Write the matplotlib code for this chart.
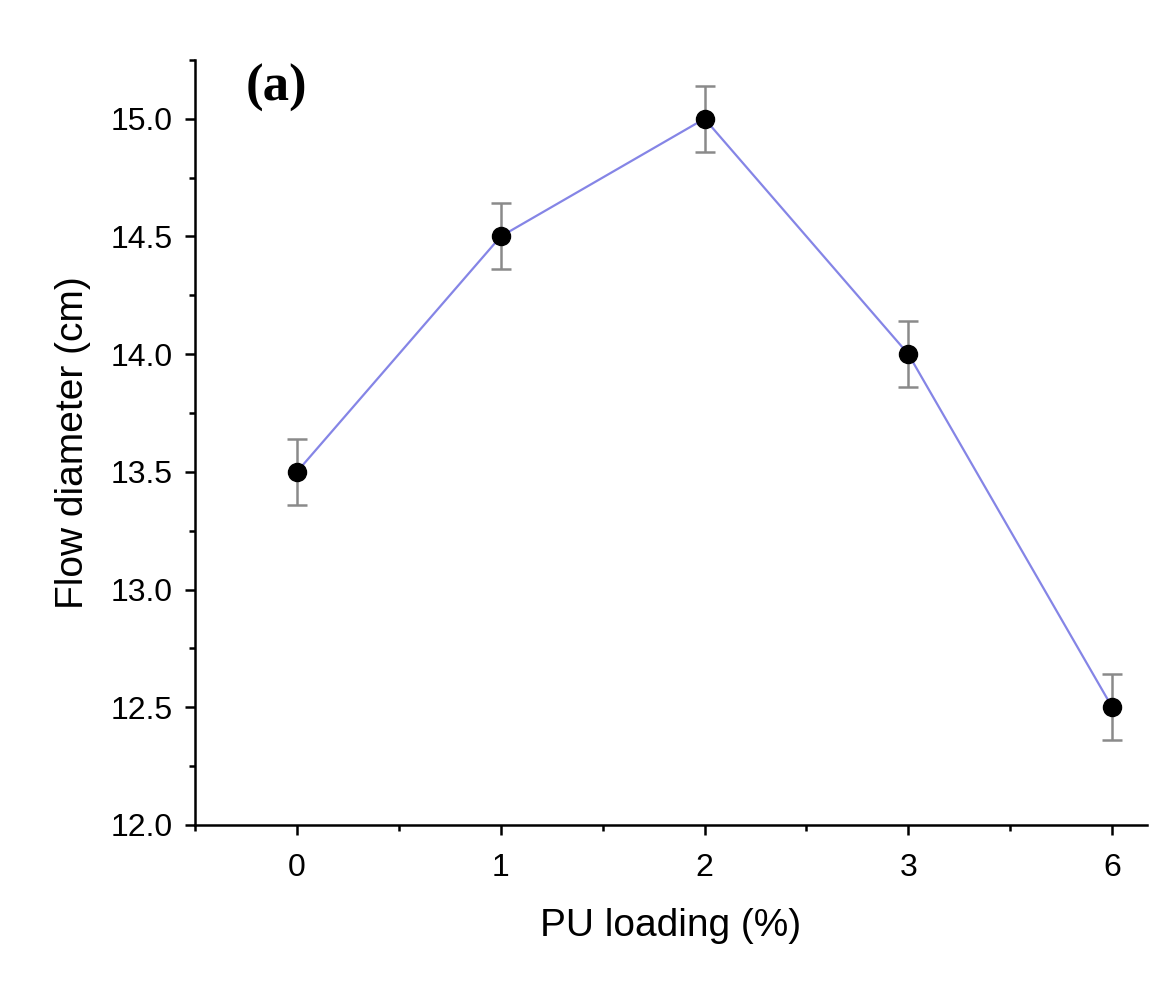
import matplotlib
matplotlib.use('Agg')
import matplotlib.pyplot as plt
from matplotlib.ticker import MultipleLocator

# PU loading categories and measured flow diameters
loading_labels = ['0', '1', '2', '3', '6']
flow_diameter = [13.5, 14.5, 15.0, 14.0, 12.5]
flow_error = [0.14, 0.14, 0.14, 0.14, 0.14]

plt.rcParams['font.family'] = ['Liberation Sans', 'DejaVu Sans']

fig = plt.figure(figsize=(11.75, 9.82), dpi=100)
ax = fig.add_axes([0.166, 0.160, 0.810, 0.779])

xpos = list(range(len(loading_labels)))

# connecting line
ax.plot(xpos, flow_diameter, color='#8585e6', lw=1.6, zorder=2)
# error bars
ax.errorbar(xpos, flow_diameter, yerr=flow_error, fmt='none',
            ecolor='#8a8a8a', elinewidth=1.8, capsize=7, capthick=1.8,
            zorder=3)
# markers
ax.plot(xpos, flow_diameter, 'o', color='black', markersize=13, zorder=4)

ax.set_xlim(-0.5, 4.17)
ax.set_ylim(12.0, 15.25)
ax.set_xticks(xpos)
ax.set_xticklabels(loading_labels)
ax.xaxis.set_minor_locator(MultipleLocator(0.5))
ax.yaxis.set_major_locator(MultipleLocator(0.5))
ax.yaxis.set_minor_locator(MultipleLocator(0.25))
ax.yaxis.set_major_formatter(matplotlib.ticker.FormatStrFormatter('%.1f'))

for side in ['top', 'right']:
    ax.spines[side].set_visible(False)
for side in ['left', 'bottom']:
    ax.spines[side].set_linewidth(1.8)

ax.tick_params(which='major', direction='out', length=7, width=1.8,
               labelsize=23)
ax.tick_params(axis='x', which='major', pad=13)
ax.tick_params(axis='y', which='major', pad=9)
ax.tick_params(which='minor', direction='out', length=4, width=1.8)

ax.set_xlabel('PU loading (%)', fontsize=28, labelpad=18)
ax.set_ylabel('Flow diameter (cm)', fontsize=28, labelpad=14)

ax.text(0.053, 0.995, '(a)', transform=ax.transAxes,
        fontsize=38, fontweight='bold', family='Liberation Serif',
        va='top', ha='left')

fig.savefig('out.png', dpi=100)
